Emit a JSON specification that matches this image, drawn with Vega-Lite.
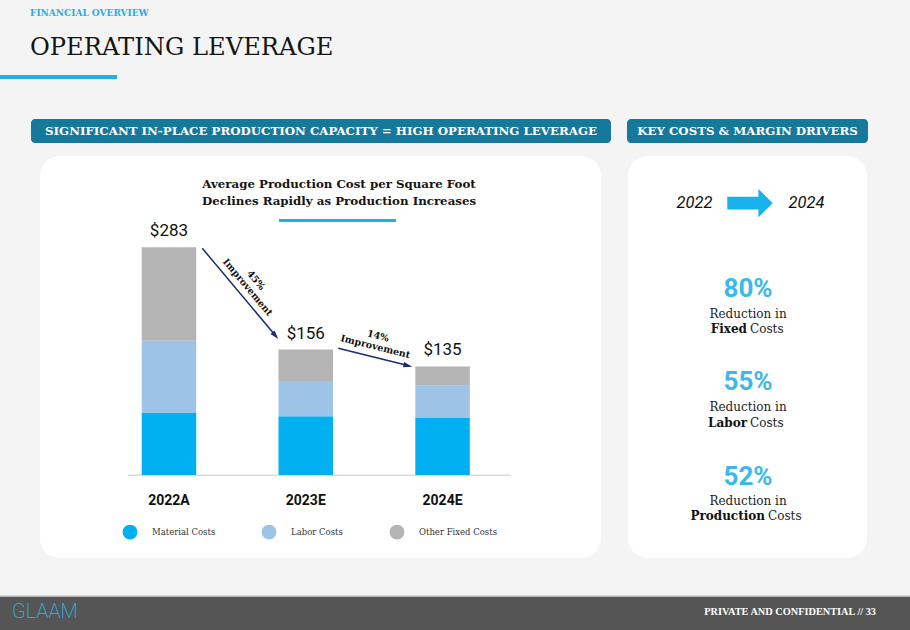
{
  "$schema": "https://vega.github.io/schema/vega-lite/v6.json",
  "width": 910,
  "height": 630,
  "padding": 0,
  "autosize": {"type": "fit", "contains": "padding"},
  "background": "#f4f4f4",
  "config": {"view": {"stroke": null}, "font": "DejaVu Serif"},
  "datasets": {
    "costs": [
      {"year": "2022A", "segment": "Material Costs", "cost": 77},
      {"year": "2022A", "segment": "Labor Costs", "cost": 90},
      {"year": "2022A", "segment": "Other Fixed Costs", "cost": 116},
      {"year": "2023E", "segment": "Material Costs", "cost": 73},
      {"year": "2023E", "segment": "Labor Costs", "cost": 44},
      {"year": "2023E", "segment": "Other Fixed Costs", "cost": 39},
      {"year": "2024E", "segment": "Material Costs", "cost": 71},
      {"year": "2024E", "segment": "Labor Costs", "cost": 40},
      {"year": "2024E", "segment": "Other Fixed Costs", "cost": 24}
    ]
  },
  "layer": [
    {"data": {"values": [{}]}, "mark": {"type": "rect", "x": 40, "y": 156, "x2": 601, "y2": 558, "fill": "#ffffff", "cornerRadius": 20}, "encoding": {}},
    {"data": {"values": [{}]}, "mark": {"type": "rect", "x": 628, "y": 156, "x2": 867, "y2": 558, "fill": "#ffffff", "cornerRadius": 20}, "encoding": {}},
    {"data": {"values": [{}]}, "mark": {"type": "rect", "x": 31, "y": 119, "x2": 611, "y2": 143, "fill": "#16789a", "cornerRadius": 4}, "encoding": {}},
    {"data": {"values": [{}]}, "mark": {"type": "rect", "x": 627, "y": 119, "x2": 868, "y2": 143, "fill": "#16789a", "cornerRadius": 4}, "encoding": {}},
    {"data": {"values": [{}]}, "mark": {"type": "rect", "x": 0, "y": 75, "x2": 117, "y2": 79, "fill": "#1db1e7"}, "encoding": {}},
    {"data": {"values": [{}]}, "mark": {"type": "rect", "x": 279, "y": 219, "x2": 396, "y2": 222, "fill": "#1db1e7"}, "encoding": {}},
    {"data": {"values": [{}]}, "mark": {"type": "rect", "x": 128, "y": 474.5, "x2": 511, "y2": 476, "fill": "#dcdcdc"}, "encoding": {}},
    {"data": {"values": [{}]}, "mark": {"type": "rect", "x": 0, "y": 595.5, "x2": 910, "y2": 597, "fill": "#b8b8b8"}, "encoding": {}},
    {"data": {"values": [{}]}, "mark": {"type": "rect", "x": 0, "y": 597, "x2": 910, "y2": 630, "fill": "#555555"}, "encoding": {}},
    {
      "data": {"name": "costs"},
      "transform": [{"calculate": "indexof(['Material Costs','Labor Costs','Other Fixed Costs'], datum.segment)", "as": "stackOrder"}],
      "mark": {"type": "bar"},
      "encoding": {
        "x": {
          "field": "year", "type": "nominal",
          "scale": {"type": "band", "range": [141.7, 469.8], "paddingInner": 0.6016, "paddingOuter": 0, "round": false},
          "axis": {"orient": "bottom", "offset": -155, "zindex": 1, "domain": false, "ticks": false, "grid": false, "title": null, "labelAngle": 0, "labelPadding": 18.5, "labelFont": "Roboto", "labelFontSize": 14, "labelFontWeight": "bold", "labelColor": "#111111"}
        },
        "y": {
          "field": "cost", "type": "quantitative", "stack": "zero",
          "scale": {"domain": [-192.6, 590.4], "nice": false, "zero": false},
          "axis": null
        },
        "color": {
          "field": "segment", "type": "nominal",
          "scale": {"domain": ["Material Costs", "Labor Costs", "Other Fixed Costs"], "range": ["#00b0f0", "#9dc3e6", "#b4b4b4"]},
          "legend": {"orient": "none", "legendX": 122.5, "legendY": 524.5, "direction": "horizontal", "title": null, "padding": 0, "symbolType": "circle", "symbolSize": 220, "symbolStrokeWidth": 0, "symbolOpacity": 1, "labelFont": "DejaVu Serif", "labelFontSize": 8.5, "labelColor": "#333333", "labelOffset": 14.5, "columnPadding": 46}
        },
        "order": {"field": "stackOrder", "type": "quantitative", "sort": "ascending"}
      }
    },
    {
      "data": {"name": "costs"},
      "transform": [{"aggregate": [{"op": "sum", "field": "cost", "as": "total"}], "groupby": ["year"]}],
      "mark": {"type": "text", "font": "Roboto", "fontSize": 17, "dy": -16, "baseline": "middle", "align": "center", "color": "#111111"},
      "encoding": {
        "x": {
          "field": "year", "type": "nominal",
          "scale": {"type": "band", "range": [141.7, 469.8], "paddingInner": 0.6016, "paddingOuter": 0, "round": false},
          "axis": {"orient": "bottom", "offset": -155, "zindex": 1, "domain": false, "ticks": false, "grid": false, "title": null, "labelAngle": 0, "labelPadding": 18.5, "labelFont": "Roboto", "labelFontSize": 14, "labelFontWeight": "bold", "labelColor": "#111111"}
        },
        "y": {"field": "total", "type": "quantitative", "scale": {"domain": [-192.6, 590.4], "nice": false, "zero": false}, "axis": null},
        "text": {"field": "total", "type": "quantitative", "format": "$,.0f"}
      }
    },
    {"data": {"values": [{}]}, "mark": {"type": "rule", "stroke": "#1c2c6c", "strokeWidth": 1.5}, "encoding": {"x": {"value": 202.3}, "y": {"value": 248.3}, "x2": {"value": 275.4}, "y2": {"value": 335.5}}},
    {"data": {"values": [{}]}, "mark": {"type": "rule", "stroke": "#1c2c6c", "strokeWidth": 1.5}, "encoding": {"x": {"value": 338.3}, "y": {"value": 348.3}, "x2": {"value": 407.9}, "y2": {"value": 365.6}}},
    {"data": {"values": [{}]}, "mark": {"type": "point", "x": 275.4, "y": 335.6, "shape": "M-1,-0.6L1,0L-1,0.6Z", "size": 81, "angle": 50, "filled": true, "fill": "#1c2c6c", "opacity": 1, "strokeWidth": 0}, "encoding": {}},
    {"data": {"values": [{}]}, "mark": {"type": "point", "x": 407.9, "y": 365.6, "shape": "M-1,-0.6L1,0L-1,0.6Z", "size": 81, "angle": 14, "filled": true, "fill": "#1c2c6c", "opacity": 1, "strokeWidth": 0}, "encoding": {}},
    {"data": {"values": [{}]}, "mark": {"type": "text", "x": 256, "y": 280.3, "angle": 50, "text": ["45%", "Improvement"], "lineHeight": 11, "align": "center", "baseline": "middle", "font": "DejaVu Serif", "fontSize": 9.5, "fontWeight": "bold", "color": "#111111"}, "encoding": {}},
    {"data": {"values": [{}]}, "mark": {"type": "text", "x": 378, "y": 336, "angle": 14, "text": ["14%", "Improvement"], "lineHeight": 11, "align": "center", "baseline": "middle", "font": "DejaVu Serif", "fontSize": 9.5, "fontWeight": "bold", "color": "#111111"}, "encoding": {}},
    {"data": {"values": [{}]}, "mark": {"type": "text", "x": 30, "y": 12.5, "text": "FINANCIAL OVERVIEW", "align": "left", "baseline": "middle", "font": "DejaVu Serif", "fontSize": 9, "fontWeight": "bold", "color": "#29abe2"}, "encoding": {}},
    {"data": {"values": [{}]}, "mark": {"type": "text", "x": 30, "y": 48, "text": "OPERATING LEVERAGE", "align": "left", "baseline": "middle", "font": "DejaVu Serif", "fontSize": 24.2, "color": "#151515"}, "encoding": {}},
    {"data": {"values": [{}]}, "mark": {"type": "text", "x": 321, "y": 131, "text": "SIGNIFICANT IN-PLACE PRODUCTION CAPACITY = HIGH OPERATING LEVERAGE", "align": "center", "baseline": "middle", "font": "DejaVu Serif", "fontSize": 11.8, "fontWeight": "bold", "color": "#ffffff"}, "encoding": {}},
    {"data": {"values": [{}]}, "mark": {"type": "text", "x": 747.5, "y": 131, "text": "KEY COSTS & MARGIN DRIVERS", "align": "center", "baseline": "middle", "font": "DejaVu Serif", "fontSize": 11.8, "fontWeight": "bold", "color": "#ffffff"}, "encoding": {}},
    {"data": {"values": [{}]}, "mark": {"type": "text", "x": 339, "y": 184, "text": ["Average Production Cost per Square Foot", "Declines Rapidly as Production Increases"], "lineHeight": 17, "align": "center", "baseline": "middle", "font": "DejaVu Serif", "fontSize": 11.8, "fontWeight": "bold", "color": "#151515"}, "encoding": {}},
    {"data": {"values": [{}]}, "mark": {"type": "text", "x": 694.5, "y": 203, "text": "2022", "align": "center", "baseline": "middle", "font": "Roboto", "fontSize": 16.5, "fontStyle": "italic", "color": "#111111"}, "encoding": {}},
    {"data": {"values": [{}]}, "mark": {"type": "text", "x": 806.5, "y": 203, "text": "2024", "align": "center", "baseline": "middle", "font": "Roboto", "fontSize": 16.5, "fontStyle": "italic", "color": "#111111"}, "encoding": {}},
    {"data": {"values": [{}]}, "mark": {"type": "point", "x": 750, "y": 203.2, "shape": "M-1,-0.28L0.37,-0.28L0.37,-0.625L1,0L0.37,0.625L0.37,0.28L-1,0.28Z", "size": 2061, "filled": true, "fill": "#1ab2ea", "opacity": 1, "strokeWidth": 0}, "encoding": {}},
    {"data": {"values": [{}]}, "mark": {"type": "text", "x": 748, "y": 289, "text": "80%", "align": "center", "baseline": "middle", "font": "Roboto", "fontSize": 26, "fontWeight": "bold", "color": "#3cb8ea"}, "encoding": {}},
    {"data": {"values": [{}]}, "mark": {"type": "text", "x": 748, "y": 382, "text": "55%", "align": "center", "baseline": "middle", "font": "Roboto", "fontSize": 26, "fontWeight": "bold", "color": "#3cb8ea"}, "encoding": {}},
    {"data": {"values": [{}]}, "mark": {"type": "text", "x": 748, "y": 477, "text": "52%", "align": "center", "baseline": "middle", "font": "Roboto", "fontSize": 26, "fontWeight": "bold", "color": "#3cb8ea"}, "encoding": {}},
    {"data": {"values": [{}]}, "mark": {"type": "text", "x": 748, "y": 313.5, "text": "Reduction in", "align": "center", "baseline": "middle", "font": "DejaVu Serif", "fontSize": 12, "color": "#222222"}, "encoding": {}},
    {"data": {"values": [{}]}, "mark": {"type": "text", "x": 748, "y": 407, "text": "Reduction in", "align": "center", "baseline": "middle", "font": "DejaVu Serif", "fontSize": 12, "color": "#222222"}, "encoding": {}},
    {"data": {"values": [{}]}, "mark": {"type": "text", "x": 748, "y": 501, "text": "Reduction in", "align": "center", "baseline": "middle", "font": "DejaVu Serif", "fontSize": 12, "color": "#222222"}, "encoding": {}},
    {"data": {"values": [{}]}, "mark": {"type": "text", "x": 747, "y": 329, "text": "Fixed", "align": "right", "baseline": "middle", "font": "DejaVu Serif", "fontSize": 12, "fontWeight": "bold", "color": "#111111"}, "encoding": {}},
    {"data": {"values": [{}]}, "mark": {"type": "text", "x": 750, "y": 329, "text": "Costs", "align": "left", "baseline": "middle", "font": "DejaVu Serif", "fontSize": 12, "color": "#222222"}, "encoding": {}},
    {"data": {"values": [{}]}, "mark": {"type": "text", "x": 747, "y": 422.5, "text": "Labor", "align": "right", "baseline": "middle", "font": "DejaVu Serif", "fontSize": 12, "fontWeight": "bold", "color": "#111111"}, "encoding": {}},
    {"data": {"values": [{}]}, "mark": {"type": "text", "x": 750, "y": 422.5, "text": "Costs", "align": "left", "baseline": "middle", "font": "DejaVu Serif", "fontSize": 12, "color": "#222222"}, "encoding": {}},
    {"data": {"values": [{}]}, "mark": {"type": "text", "x": 765, "y": 516, "text": "Production", "align": "right", "baseline": "middle", "font": "DejaVu Serif", "fontSize": 12, "fontWeight": "bold", "color": "#111111"}, "encoding": {}},
    {"data": {"values": [{}]}, "mark": {"type": "text", "x": 768, "y": 516, "text": "Costs", "align": "left", "baseline": "middle", "font": "DejaVu Serif", "fontSize": 12, "color": "#222222"}, "encoding": {}},
    {"data": {"values": [{}]}, "mark": {"type": "text", "x": 12, "y": 612, "text": "GLAAM", "align": "left", "baseline": "middle", "font": "Roboto", "fontSize": 20, "fontWeight": 200, "color": "#29b5e8"}, "encoding": {}},
    {"data": {"values": [{}]}, "mark": {"type": "text", "x": 876, "y": 612, "text": "PRIVATE AND CONFIDENTIAL // 33", "align": "right", "baseline": "middle", "font": "Liberation Serif", "fontSize": 10.3, "fontWeight": "bold", "color": "#ffffff"}, "encoding": {}}
  ]
}
